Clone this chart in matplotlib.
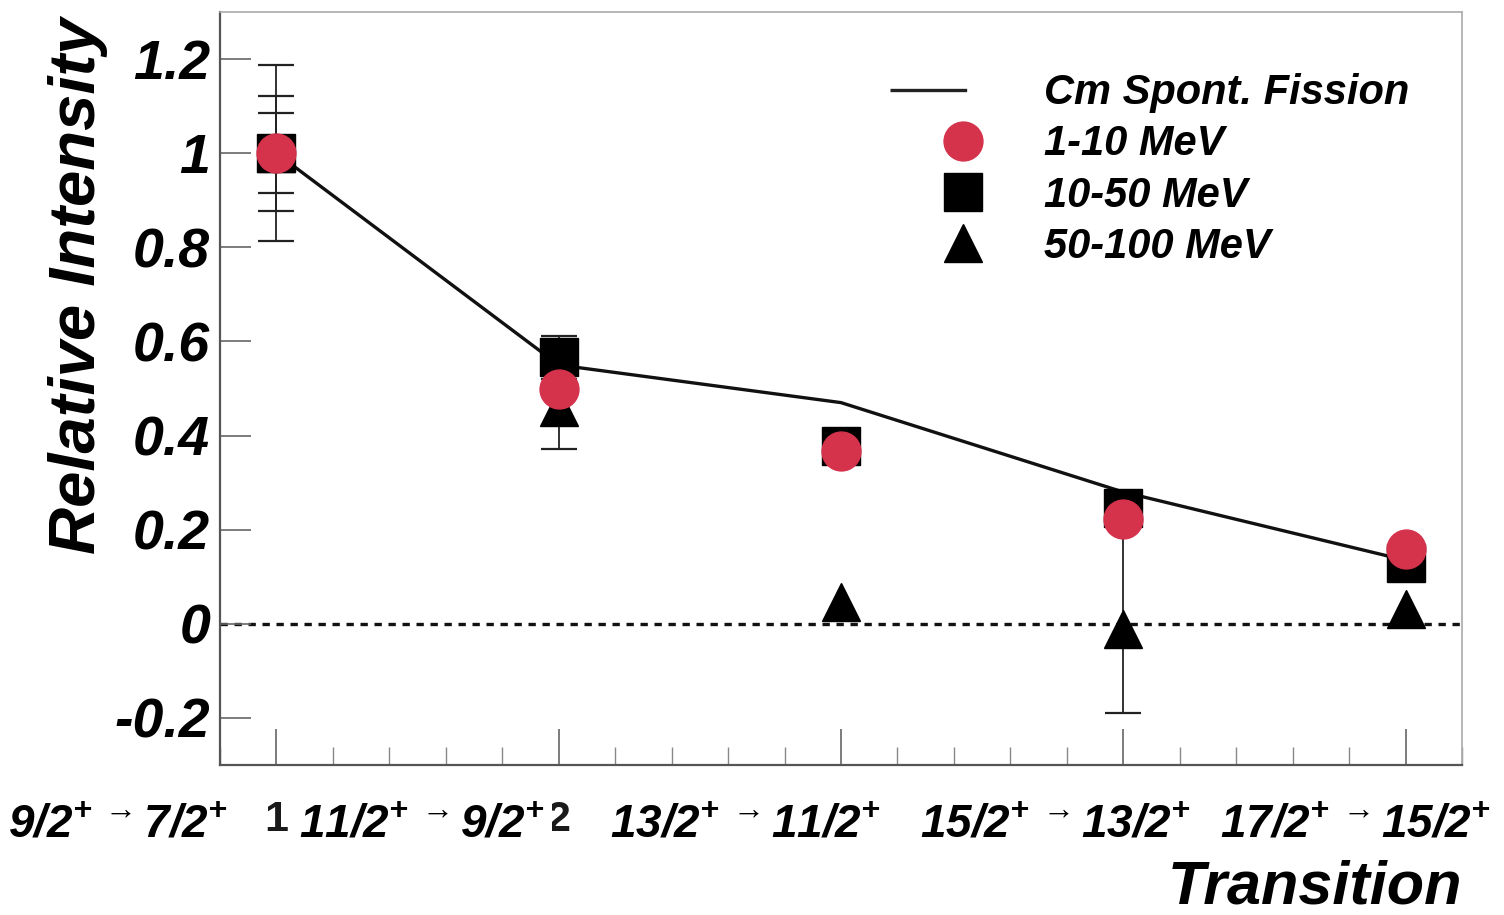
import matplotlib
matplotlib.use('Agg')
import matplotlib.pyplot as plt
from matplotlib import font_manager as fm
from matplotlib.lines import Line2D

NAN = float('nan')  # no visible error bar

# ---------------- data ----------------
transition_idx = [1, 2, 3, 4, 5]
xtick_labels = ['1', '2', '3', '4', '5']
transition_labels = [
    r'$9/2^{+\;\rightarrow}7/2^{+}$',
    r'$11/2^{+\;\rightarrow}9/2^{+}$',
    r'$13/2^{+\;\rightarrow}11/2^{+}$',
    r'$15/2^{+\;\rightarrow}13/2^{+}$',
    r'$17/2^{+\;\rightarrow}15/2^{+}$',
]
cm_spont_fission = [1.0, 0.55, 0.47, 0.28, 0.135]
int_1_10 = [1.0, 0.50, 0.367, 0.222, 0.158]
err_1_10 = [0.085, NAN, NAN, NAN, NAN]
int_10_50 = [1.0, 0.566, 0.378, 0.246, 0.13]
err_10_50 = [0.122, 0.045, NAN, NAN, NAN]
int_50_100 = [1.0, 0.46, 0.047, -0.01, 0.032]
err_50_100_low = [0.187, 0.088, NAN, 0.18, NAN]
err_50_100_high = [0.187, 0.088, NAN, 0.23, NAN]
legend_labels = ['Cm Spont. Fission', '1-10 MeV', '10-50 MeV', '50-100 MeV']
y_ticks = [-0.2, 0, 0.2, 0.4, 0.6, 0.8, 1, 1.2]
y_ticklabels = ['-0.2', '0', '0.2', '0.4', '0.6', '0.8', '1', '1.2']

# ---------------- fonts ----------------
names = {f.name for f in fm.fontManager.ttflist}
BASE = 'Liberation Sans' if 'Liberation Sans' in names else 'DejaVu Sans'
plt.rcParams['font.family'] = [BASE, 'DejaVu Sans']
plt.rcParams['mathtext.fontset'] = 'custom'
plt.rcParams['mathtext.rm'] = f'{BASE}:italic:bold'
plt.rcParams['mathtext.it'] = f'{BASE}:italic:bold'
plt.rcParams['mathtext.bf'] = f'{BASE}:italic:bold'

RED = '#d5324c'
W, H = 1504, 915
fig = plt.figure(figsize=(W / 100, H / 100), dpi=100)
ax = fig.add_axes([220 / W, 1 - 765 / H, (1462 - 220) / W, (765 - 12) / H])

# reference line
ax.plot(transition_idx, cm_spont_fission, color='#111111', lw=2.4, zorder=2)
ax.axhline(0, color='#111111', lw=2.4, ls=(0, (2.2, 2.0)), zorder=1.5)

ekw = dict(ls='none', ecolor='#222222', elinewidth=1.3, capsize=13, capthick=1.6)
ax.errorbar(transition_idx, int_50_100, yerr=[err_50_100_low, err_50_100_high],
            marker='^', ms=28, mfc='black', mec='black', zorder=3, **ekw)
ax.errorbar(transition_idx, int_10_50, yerr=err_10_50, marker='s', ms=28,
            mfc='black', mec='black', zorder=4, **ekw)
ax.errorbar(transition_idx, int_1_10, yerr=err_1_10, marker='o', ms=28,
            mfc=RED, mec=RED, zorder=5, **ekw)

ax.set_xlim(0.8, 5.2)
ax.set_ylim(-0.3, 1.3)

ax.set_yticks(y_ticks)
ax.set_yticklabels(y_ticklabels)
ax.set_xticks(transition_idx)
ax.set_xticklabels(xtick_labels)
ax.set_xticks([x / 10 for x in range(8, 53, 2)], minor=True)

ax.tick_params(axis='y', direction='in', length=22, width=1.2, color='#666666',
               pad=7, labelsize=40)
ax.tick_params(axis='x', which='major', direction='in', length=26, width=1.2,
               color='#666666', pad=25, labelsize=31, labelcolor='#1a1a1a')
ax.tick_params(axis='x', which='minor', direction='in', length=13, width=1.0,
               color='#888888')
for lab in ax.get_yticklabels():
    lab.set_fontweight('bold')
    lab.set_fontstyle('italic')
for lab in ax.get_xticklabels():
    lab.set_fontweight('bold')

for s in ['left', 'bottom']:
    ax.spines[s].set_color('#555555')
    ax.spines[s].set_linewidth(1.6)
for s in ['top', 'right']:
    ax.spines[s].set_color('#aaaaaa')
    ax.spines[s].set_linewidth(1.2)

ax.set_ylabel('Relative Intensity', fontsize=47, fontweight='bold',
              fontstyle='italic', loc='top')
ax.yaxis.set_label_coords(-0.0905, 0.993)
ax.set_xlabel('Transition', fontsize=44, fontweight='bold',
              fontstyle='italic', loc='right')
ax.xaxis.set_label_coords(1.0, -0.126)

# transition labels below the axis (white boxes hide the plain tick numbers)
label_cx = [118, 422, 745, 1055, 1355]
for cx, txt in zip(label_cx, transition_labels):
    fig.text(cx / W, 1 - 838 / H, txt, ha='center', va='baseline', fontsize=33,
             color='black', zorder=10,
             bbox=dict(boxstyle='square,pad=0.16', fc='white', ec='none'))

# legend
handles = [
    Line2D([], [], color='#222222', lw=2.4, ls=(0, (23, 200))),
    Line2D([], [], ls='none', marker='o', ms=28, mfc=RED, mec=RED),
    Line2D([], [], ls='none', marker='s', ms=28, mfc='black', mec='black'),
    Line2D([], [], ls='none', marker='^', ms=28, mfc='black', mec='black'),
]
leg = ax.legend(handles, legend_labels, loc='center left',
                bbox_to_anchor=(890 / W, 1 - 170 / H),
                bbox_transform=fig.transFigure, frameon=False,
                prop=dict(family=BASE, weight='bold', style='italic', size=30),
                handlelength=3.5, handletextpad=0.2, labelspacing=0.27,
                borderpad=0, borderaxespad=0, numpoints=1)

fig.savefig('out.png', dpi=100)
